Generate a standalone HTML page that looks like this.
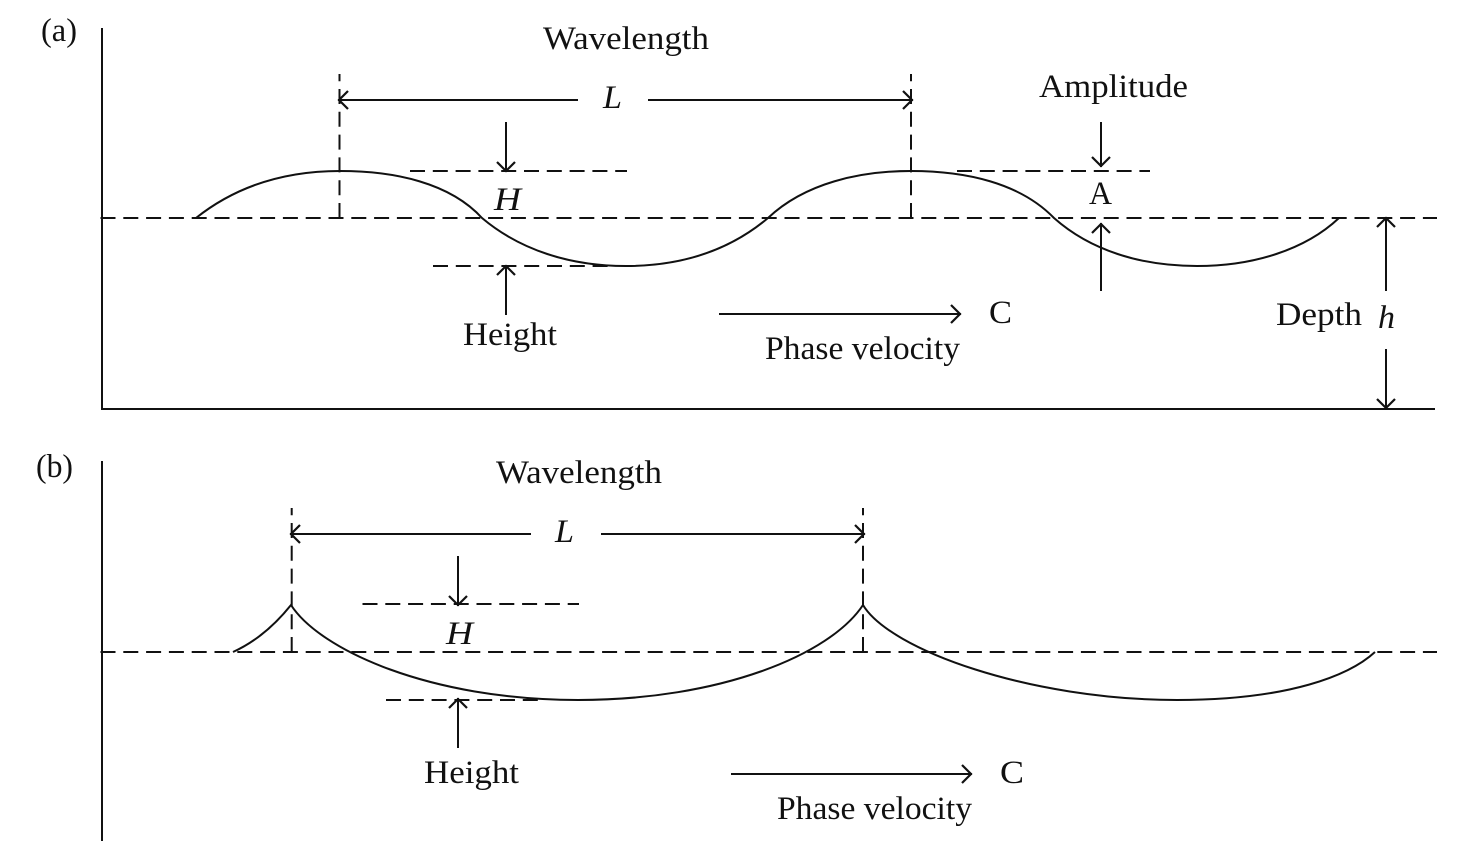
<!DOCTYPE html>
<html><head><meta charset="utf-8"><style>
html,body{margin:0;padding:0;background:#fff;width:1469px;height:841px;overflow:hidden}
svg{display:block}
text{font-family:"Liberation Serif",serif;font-size:33px;fill:#111}
.i{font-style:italic}
.l{stroke:#111;stroke-width:2;fill:none}
.d{stroke:#111;stroke-width:2;fill:none;stroke-dasharray:15 7.8}
</style></head><body>
<svg width="1469" height="841" viewBox="0 0 1469 841" xmlns="http://www.w3.org/2000/svg">
<defs>
<marker id="a" markerUnits="userSpaceOnUse" markerWidth="24" markerHeight="24" refX="15" refY="12" orient="auto-start-reverse"><path d="M5 3 L14 12 L5 21" fill="none" stroke="#111" stroke-width="2.2"/></marker>
</defs>
<text x="41" y="41" textLength="36" lengthAdjust="spacingAndGlyphs">(a)</text>
<text x="36" y="477" textLength="37" lengthAdjust="spacingAndGlyphs">(b)</text>
<path class="l" d="M102 28V409H1435"/>
<path class="l" d="M102 461V841"/>
<path class="d" d="M100.5 218H1437"/>
<path class="d" d="M100.5 652H1437"/>
<!-- a waves -->
<path class="l" d="M196 218C240 183 290 171 340 171C395 171 450 183 482 218C520 250 570 266 626 266C682 266 730 250 768 218C805 183 860 171 911 171C966 171 1020 183 1054 218C1090 250 1140 266 1197 266C1253 266 1305 250 1339 218"/>
<path class="d" d="M339.5 218V74M911 218V74"/>
<path class="l" marker-start="url(#a)" d="M338 100H578"/>
<path class="l" marker-end="url(#a)" d="M648 100H913"/>
<path class="d" d="M410 171H627M957 171H1150M433 266H610"/>
<path class="l" marker-end="url(#a)" d="M506 122V172"/>
<path class="l" marker-end="url(#a)" d="M506 315V265"/>
<path class="l" marker-end="url(#a)" d="M1101 122V167"/>
<path class="l" marker-end="url(#a)" d="M1101 291V223"/>
<path class="l" marker-end="url(#a)" d="M719 314H961"/>
<path class="l" marker-end="url(#a)" d="M1386 291V217"/>
<path class="l" marker-end="url(#a)" d="M1386 349V409"/>
<text x="543" y="49" textLength="166" lengthAdjust="spacingAndGlyphs">Wavelength</text>
<text x="603" y="108" class="i" textLength="19" lengthAdjust="spacingAndGlyphs">L</text>
<text x="1039" y="97" textLength="149" lengthAdjust="spacingAndGlyphs">Amplitude</text>
<text x="494" y="210" class="i" textLength="27" lengthAdjust="spacingAndGlyphs">H</text>
<text x="1089" y="204" textLength="23" lengthAdjust="spacingAndGlyphs">A</text>
<text x="463" y="345" textLength="94" lengthAdjust="spacingAndGlyphs">Height</text>
<text x="989" y="323" textLength="23" lengthAdjust="spacingAndGlyphs">C</text>
<text x="765" y="359" textLength="195" lengthAdjust="spacingAndGlyphs">Phase velocity</text>
<text x="1276" y="325" textLength="86" lengthAdjust="spacingAndGlyphs">Depth</text>
<text x="1378" y="328" class="i" textLength="17" lengthAdjust="spacingAndGlyphs">h</text>
<!-- b waves -->
<path class="l" d="M233 652C255 642 275 625 291 605C320 650 430 700 578 700C720 700 830 655 863 605C890 650 1030 700 1177 700C1290 700 1350 675 1375 652"/>
<path class="d" d="M291.7 652V508M863 652V508"/>
<path class="l" marker-start="url(#a)" d="M290 534H531"/>
<path class="l" marker-end="url(#a)" d="M601 534H865"/>
<path class="d" d="M362.5 604H579M386 700H540"/>
<path class="l" marker-end="url(#a)" d="M458 556V606"/>
<path class="l" marker-end="url(#a)" d="M458 748V698"/>
<path class="l" marker-end="url(#a)" d="M731 774H972"/>
<text x="496" y="483" textLength="166" lengthAdjust="spacingAndGlyphs">Wavelength</text>
<text x="555" y="542" class="i" textLength="19" lengthAdjust="spacingAndGlyphs">L</text>
<text x="446" y="644" class="i" textLength="27" lengthAdjust="spacingAndGlyphs">H</text>
<text x="424" y="783" textLength="95" lengthAdjust="spacingAndGlyphs">Height</text>
<text x="1000" y="783" textLength="24" lengthAdjust="spacingAndGlyphs">C</text>
<text x="777" y="819" textLength="195" lengthAdjust="spacingAndGlyphs">Phase velocity</text>
</svg>
</body></html>
